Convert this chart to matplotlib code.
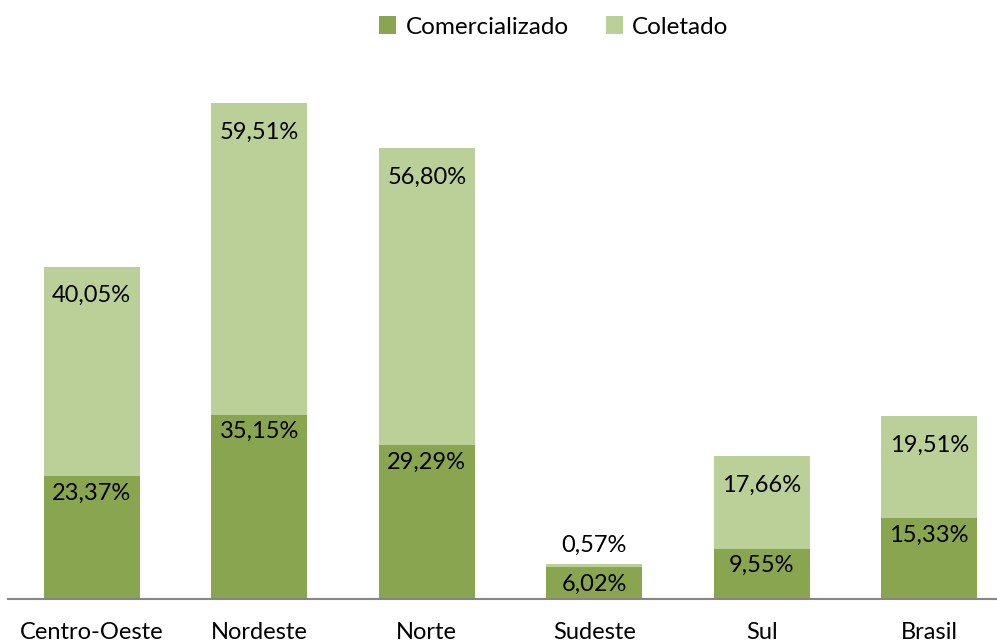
import matplotlib.pyplot as plt
import numpy as np

plt.rcParams['font.family'] = ['Lato', 'DejaVu Sans']

# Data
regioes = ['Centro-Oeste', 'Nordeste', 'Norte', 'Sudeste', 'Sul', 'Brasil']
comercializado = [23.37, 35.15, 29.29, 6.02, 9.55, 15.33]
coletado = [40.05, 59.51, 56.80, 0.57, 17.66, 19.51]

cor_escura = '#8aa550'
cor_clara = '#bbcf98'

def fmt(v):
    return f'{v:.2f}'.replace('.', ',') + '%'

fig = plt.figure(figsize=(9.97, 6.44), dpi=100)
ax = fig.add_axes([8 / 997, 45.5 / 644, 1005 / 997, 523 / 644])

x = np.arange(len(regioes))
total = [c + l for c, l in zip(comercializado, coletado)]
ax.bar(x, comercializado, width=0.573, color=cor_escura, label='Comercializado')
ax.bar(x, coletado, width=0.573, bottom=comercializado, color=cor_clara, label='Coletado')

# Labels near the top of each segment
for i in range(len(regioes)):
    ax.annotate(fmt(comercializado[i]), (x[i], comercializado[i]), xytext=(0, -17),
                textcoords='offset pixels', ha='center', va='center', fontsize=17)
    if coletado[i] < 3:
        ax.annotate(fmt(coletado[i]), (x[i], total[i]), xytext=(0, 19),
                    textcoords='offset pixels', ha='center', va='center', fontsize=17)
    else:
        ax.annotate(fmt(coletado[i]), (x[i], total[i]), xytext=(0, -29),
                    textcoords='offset pixels', ha='center', va='center', fontsize=17)

ax.set_xlim(-0.5, 5.5)
ax.set_ylim(0, 100)
ax.set_xticks(x)
ax.set_xticklabels(regioes, fontsize=17)
ax.tick_params(axis='x', length=0, pad=17)
ax.set_yticks([])
for s in ['top', 'right', 'left']:
    ax.spines[s].set_visible(False)
ax.spines['bottom'].set_color('#868686')
ax.spines['bottom'].set_linewidth(1.5)

fig.legend(loc='center', bbox_to_anchor=(554 / 997, 1 - 27 / 644), ncol=2, frameon=False,
           fontsize=17.5, handlelength=0.7, handleheight=0.7, handletextpad=0.4, columnspacing=1.5)

fig.savefig('out.png', dpi=100)
